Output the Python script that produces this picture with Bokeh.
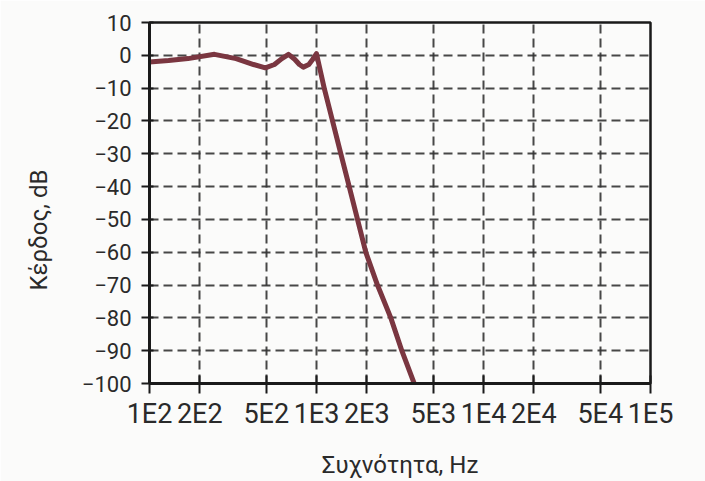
from bokeh.plotting import figure
from bokeh.models import Range1d, FixedTicker, Title
from bokeh.embed import file_html
from bokeh.resources import INLINE

# Frequency response readings (Hz, dB)
freq_hz = [100, 130, 170, 245, 330, 420, 494, 560, 620, 680, 740, 790, 834, 900, 950, 1000,
           1112, 1247, 1399, 1570, 1760, 1973, 2318, 2786, 3243, 3846]
gain_db = [-2.0, -1.6, -1.0, 0.3, -1.0, -2.8, -3.8, -2.8, -1.0, 0.3, -1.2, -2.8, -3.6, -2.8, -1.2, 0.5,
           -10, -20, -30, -40, -50, -60, -70, -80, -90, -100]

x_ticks = [100, 200, 500, 1000, 2000, 5000, 10000, 20000, 50000, 100000]
x_tick_labels = ["1E2", "2E2", "5E2", "1E3", "2E3", "5E3", "1E4", "2E4", "5E4", "1E5"]
y_ticks = [10, 0, -10, -20, -30, -40, -50, -60, -70, -80, -90, -100]
y_tick_labels = ["10", "0", "\u221210", "\u221220", "\u221230", "\u221240", "\u221250",
                 "\u221260", "\u221270", "\u221280", "\u221290", "\u2212100"]
x_title = "Συχνότητα, Hz"
y_title = "Κέρδος, dB"

FONT = "Roboto"
BG = "#fbfbfa"

p = figure(width=705, height=481, x_axis_type="log",
           x_range=Range1d(100, 100000), y_range=Range1d(-100, 10),
           output_backend="svg", toolbar_location=None,
           min_border_left=148, min_border_right=55,
           min_border_top=22, min_border_bottom=98)
p.background_fill_color = BG
p.border_fill_color = BG
p.outline_line_color = "#1a1a1a"
p.outline_line_width = 2.5

p.line(freq_hz, gain_db, line_color="#7a3640", line_width=5, line_join="round", line_cap="round")

# axes
p.xaxis.ticker = FixedTicker(ticks=x_ticks)
p.xaxis.major_label_overrides = {t: l for t, l in zip(x_ticks, x_tick_labels)}
p.yaxis.ticker = FixedTicker(ticks=y_ticks)
p.yaxis.major_label_overrides = {t: l for t, l in zip(y_ticks, y_tick_labels)}

for ax in (p.xaxis[0], p.yaxis[0]):
    ax.axis_line_color = "#1a1a1a"
    ax.axis_line_width = 3
    ax.major_tick_line_color = "#1a1a1a"
    ax.major_tick_line_width = 2
    ax.minor_tick_line_color = None
    ax.major_label_text_font = FONT
    ax.major_label_text_color = "#2a2a2a"
    ax.axis_label_text_font = FONT
    ax.axis_label_text_font_style = "normal"
    ax.axis_label_text_color = "#2a2a2a"
    ax.axis_label_text_font_size = "24px"

p.xaxis.major_tick_in = 8
p.xaxis.major_tick_out = 10
p.xaxis.major_label_text_font_size = "27px"
p.xaxis.major_label_standoff = 4
p.xaxis.axis_label = x_title
p.xaxis.axis_label_standoff = 18

p.yaxis.major_tick_in = 4
p.yaxis.major_tick_out = 8
p.yaxis.major_label_text_font_size = "22px"
p.yaxis.major_label_standoff = 10

# y title, a little below the frame centre as in the reference
p.add_layout(Title(text=y_title, align="left", offset=93, vertical_align="top",
                   standoff=48, text_font=FONT, text_font_size="24px",
                   text_font_style="normal", text_color="#2a2a2a"), "left")

# grid
for g in (p.xgrid[0], p.ygrid[0]):
    g.grid_line_color = "#333333"
    g.grid_line_width = 2
    g.grid_line_dash = "9 5"
    g.grid_line_alpha = 0.9
p.xgrid.ticker = FixedTicker(ticks=x_ticks)
p.ygrid.ticker = FixedTicker(ticks=y_ticks)

open("out.html", "w").write(file_html(p, INLINE))
